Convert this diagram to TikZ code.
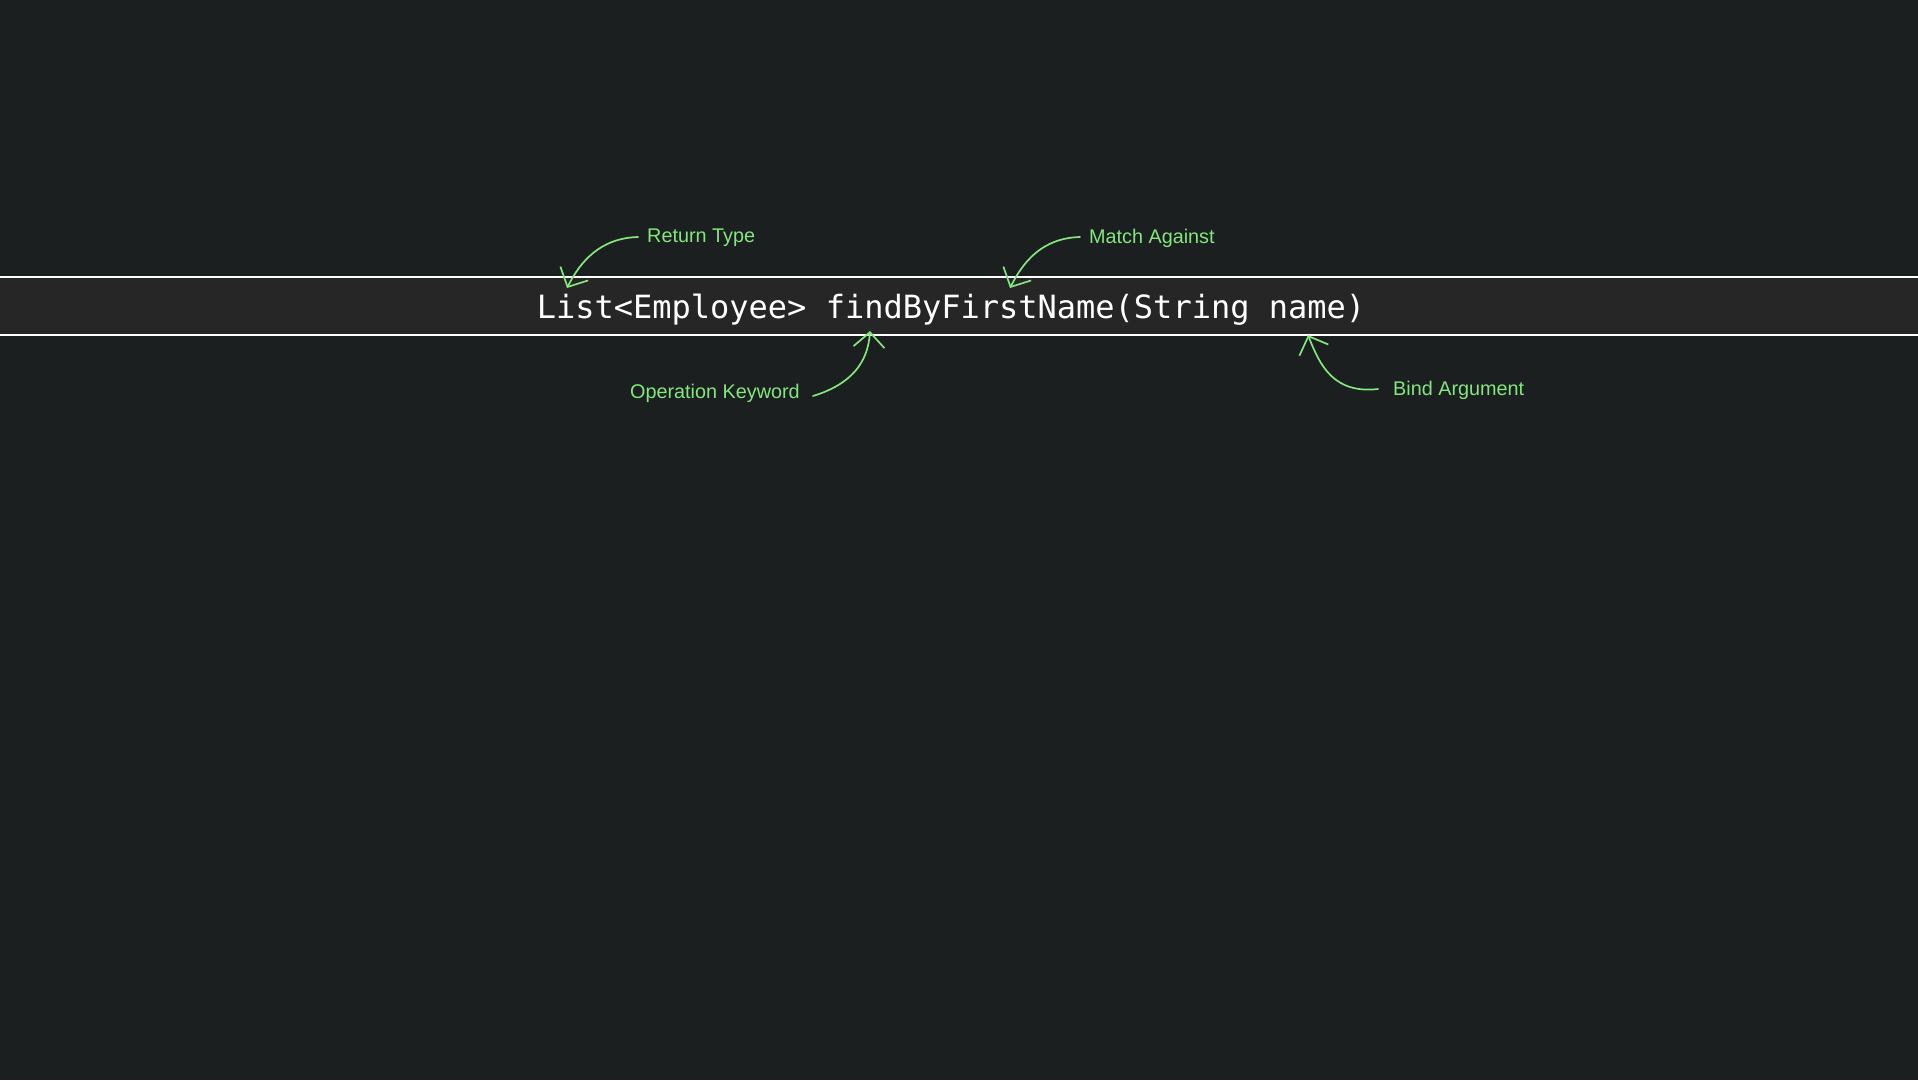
\documentclass[tikz,border=0pt]{standalone}
\usepackage{fontspec}
\setmainfont{Liberation Sans}
\newfontfamily\codefont{DejaVu Sans Mono}
\usetikzlibrary{arrows.meta}
\definecolor{bgc}{HTML}{1B1F1F}
\definecolor{bandc}{HTML}{262626}
\definecolor{labc}{HTML}{84E67E}
\tikzset{
  lbl/.style={text=labc, font=\fontsize{19.8}{22}\selectfont, inner sep=0pt, anchor=west},
  note/.style={draw=labc, line width=1.7pt, line cap=round, -{Straight Barb[length=15pt,width=31pt,line width=1.7pt]}},
  rule/.style={draw=white, line width=1.6pt}
}
\begin{document}
\begin{tikzpicture}[x=1pt,y=-1pt]
\useasboundingbox (0,0) rectangle (1918,1080);
\fill[bgc] (0,0) rectangle (1918,1080);
\fill[bandc] (0,277) rectangle (1918,335);
\coordinate (tl) at (0,277); \coordinate (tr) at (1918,277);
\coordinate (bl) at (0,335); \coordinate (br) at (1918,335);
\draw[rule] (tl) -- (tr);
\draw[rule] (bl) -- (br);
\node[text=white, font=\codefont\fontsize{32}{36}\selectfont, inner sep=0pt, anchor=base] (code) at (951,318) {List<Employee> findByFirstName(String name)};

\node[lbl] (rt) at (647,238) {Return Type};
\node[lbl] (ma) at (1089,238) {Match Against};
\node[lbl] (ok) at (630,393) {Operation Keyword};
\node[lbl] (ba) at (1393,390) {Bind Argument};

\coordinate (rtS) at (638,237); \coordinate (rtT) at (567,288);
\coordinate (maS) at (1080,237); \coordinate (maT) at (1010,288);
\coordinate (okS) at (813,396); \coordinate (okT) at (870,331);
\coordinate (baS) at (1378,389); \coordinate (baT) at (1308,335);

\draw[note] (rtS) .. controls (600,238) and (580,262) .. (rtT);
\draw[note] (maS) .. controls (1042,238) and (1023,262) .. (maT);
\draw[note] (okS) .. controls (852,384) and (868,362) .. (okT);
\draw[note] (baS) .. controls (1334,394) and (1320,366) .. (baT);
\end{tikzpicture}
\end{document}
